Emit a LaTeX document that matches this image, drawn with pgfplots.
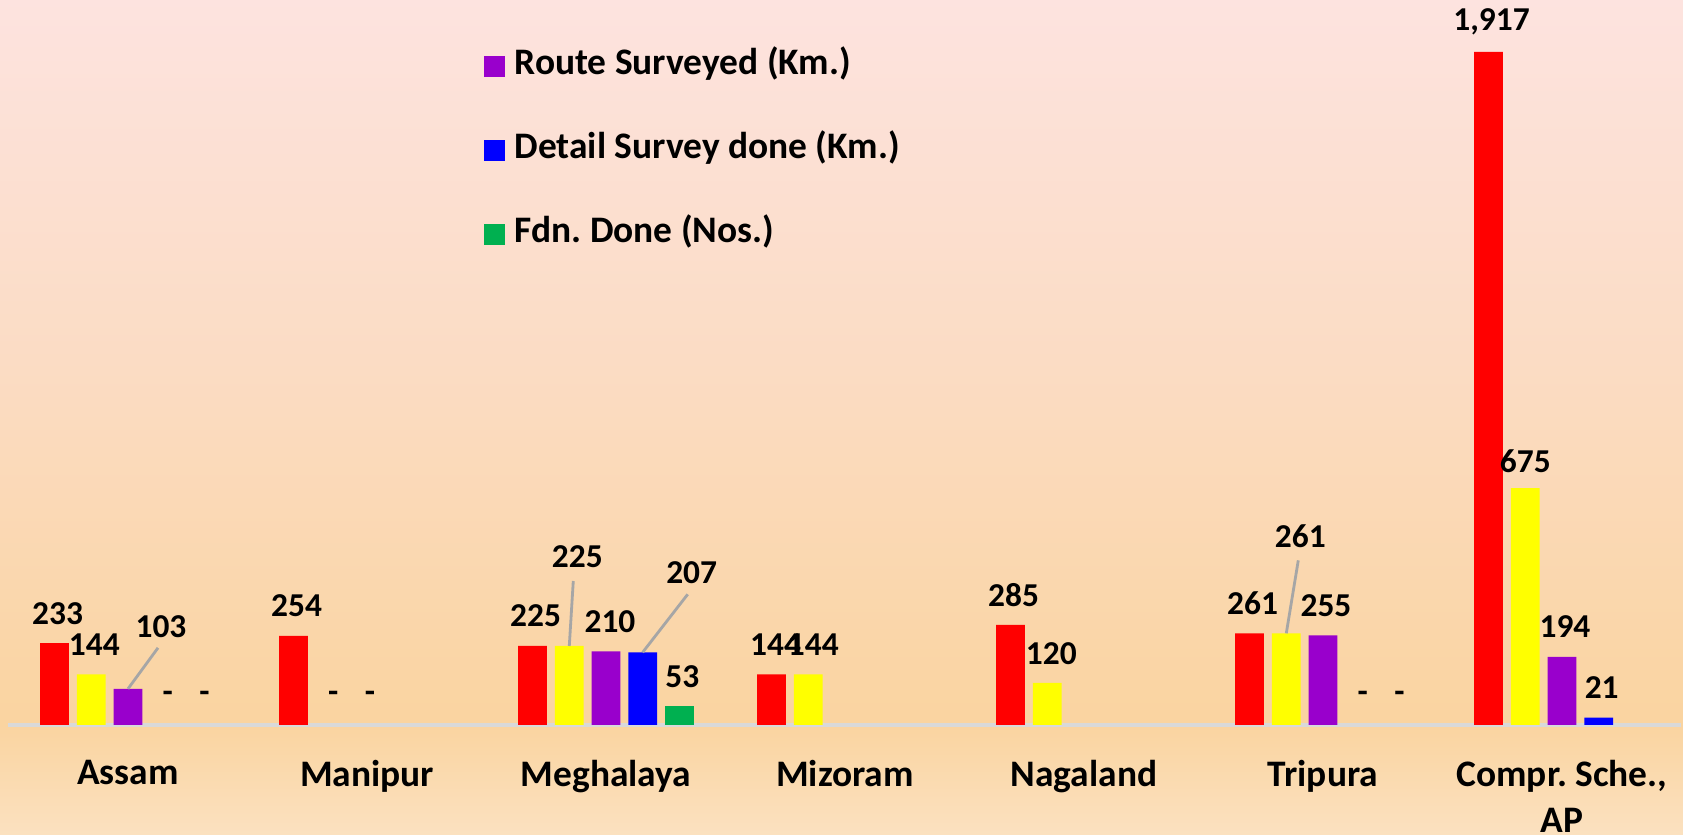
\documentclass[border=0pt]{standalone}
\usepackage{fontspec}
\setmainfont{Carlito}
\usepackage{pgfplots}
\usepackage{pgfplotstable}
\pgfplotsset{compat=1.18}

\definecolor{cRed}{RGB}{255,0,0}
\definecolor{cYel}{RGB}{255,255,0}
\definecolor{cPur}{RGB}{153,0,204}
\definecolor{cBlu}{RGB}{0,0,255}
\definecolor{cGrn}{RGB}{0,176,80}
\definecolor{bgTop}{RGB}{253,227,223}
\definecolor{bgMid}{RGB}{251,220,196}
\definecolor{bgBase}{RGB}{250,212,160}
\definecolor{bgBot}{RGB}{251,225,192}

\pgfdeclareverticalshading{bgshade}{100bp}{color(0bp)=(bgBot); color(25bp)=(bgBot); color(31.6bp)=(bgBase); color(53.4bp)=(bgMid); color(75bp)=(bgTop); color(100bp)=(bgTop)}

% x y label dx dy  (dx, dy: label offset in cm)
\pgfplotstableread{
x y lab dx dy
0 233 233 0.03 0.30
1 254 254 0.03 0.30
2 225 225 0.03 0.30
3 144 144 0.04 0.30
4 285 285 0.03 0.30
5 261 261 0.03 0.30
6 1917 1,917 0.03 0.30
}\tRed
\pgfplotstableread{
x y lab dx dy
0 144 144 0.03 0.30
2 225 225 0.08 0.89
3 144 144 0.05 0.30
4 120 120 0.04 0.29
5 261 261 0.14 0.97
6 675 675 0.00 0.27
}\tYel
\pgfplotstableread{
x y lab dx dy
0 103 103 0.33 0.62
2 210 210 0.04 0.30
5 255 255 0.03 0.30
6 194 194 0.03 0.30
}\tPur
\pgfplotstableread{
x y lab dx dy
2 207 207 0.49 0.80
6 21 21 0.03 0.30
}\tBlu
\pgfplotstableread{
x y lab dx dy
2 53 53 0.03 0.30
}\tGrn
% zero values shown as "-"
\pgfplotstableread{
x y lab dx dy
1 0 - 0.03 0.28
}\zYel
\pgfplotstableread{
x y lab dx dy
1 0 - 0.03 0.28
}\zPur
\pgfplotstableread{
x y lab dx dy
0 0 - 0.03 0.28
5 0 - 0.03 0.28
}\zBlu
\pgfplotstableread{
x y lab dx dy
0 0 - 0.03 0.28
5 0 - 0.03 0.28
}\zGrn

\begin{document}
\frenchspacing
\begin{tikzpicture}
\shade[shading=bgshade] (0,0) rectangle (16.83cm,8.35cm);
\begin{axis}[
    at={(0.085cm,1.10cm)}, anchor=south west,
    scale only axis,
    width=16.73cm, height=7.25cm,
    xmin=-0.5, xmax=6.5, ymin=0, ymax=2065,
    axis x line*=bottom, axis y line=none,
    x axis line style={draw=black!15, line width=0.9pt},
    xtick={0,...,6},
    xticklabels={Assam,Manipur,Meghalaya,Mizoram,Nagaland,Tripura,{Compr. Sche.,\\AP}},
    xtick style={draw=none}, major tick length=0pt,
    xticklabel style={font=\fontsize{10.65}{13}\selectfont\bfseries, align=center, yshift=-0.23cm},
    ytick=\empty,
    clip=false,
    ybar, bar width=0.287cm,
    point meta=explicit symbolic,
    visualization depends on={\thisrow{dx} \as \labdx},
    visualization depends on={\thisrow{dy} \as \labdy},
    nodes near coords,
    nodes near coords style={font=\fontsize{9.5}{10}\selectfont\bfseries, anchor=center, xshift=\labdx cm, yshift=\labdy cm},
    legend style={at={(0.2836,0.932)}, anchor=north west, draw=none, fill=none,
        inner sep=0pt, row sep=0.51cm, column sep=0.1cm,
        font=\fontsize{10.65}{12}\selectfont\bfseries,
        nodes={inner sep=0pt, text height=0.25cm, text depth=0.08cm}},
    legend cell align=left,
]
\addplot[fill=cRed, draw=none, bar shift=-0.734cm, forget plot] table[x=x, y=y, meta=lab] {\tRed};
\addplot[fill=cYel, draw=none, bar shift=-0.367cm, forget plot] table[x=x, y=y, meta=lab] {\tYel};
\addplot[fill=cPur, draw=none, bar shift=0cm,
    legend image code/.code={\fill[cPur] (0cm,-0.105cm) rectangle (0.21cm,0.105cm);}]
    table[x=x, y=y, meta=lab] {\tPur};
\addlegendentry{Route Surveyed (Km.)}
\addplot[fill=cBlu, draw=none, bar shift=0.367cm,
    legend image code/.code={\fill[cBlu] (0cm,-0.105cm) rectangle (0.21cm,0.105cm);}]
    table[x=x, y=y, meta=lab] {\tBlu};
\addlegendentry{Detail Survey done (Km.)}
\addplot[fill=cGrn, draw=none, bar shift=0.734cm,
    legend image code/.code={\fill[cGrn] (0cm,-0.105cm) rectangle (0.21cm,0.105cm);}]
    table[x=x, y=y, meta=lab] {\tGrn};
\addlegendentry{Fdn. Done (Nos.)}

\addplot[fill=none, draw=none, bar shift=-0.367cm, forget plot] table[x=x, y=y, meta=lab] {\zYel};
\addplot[fill=none, draw=none, bar shift=0cm, forget plot] table[x=x, y=y, meta=lab] {\zPur};
\addplot[fill=none, draw=none, bar shift=0.367cm, forget plot] table[x=x, y=y, meta=lab] {\zBlu};
\addplot[fill=none, draw=none, bar shift=0.734cm, forget plot] table[x=x, y=y, meta=lab] {\zGrn};

% leader lines for moved labels
\draw[black!35, line width=0.8pt] (axis cs:0,103) -- ([xshift=0.30cm,yshift=0.41cm]axis cs:0,103);
\draw[black!35, line width=0.8pt] ([xshift=-0.367cm]axis cs:2,225) -- ([xshift=-0.327cm,yshift=0.65cm]axis cs:2,225);
\draw[black!35, line width=0.8pt] ([xshift=0.367cm]axis cs:2,207) -- ([xshift=0.817cm,yshift=0.58cm]axis cs:2,207);
\draw[black!35, line width=0.8pt] ([xshift=-0.367cm]axis cs:5,261) -- ([xshift=-0.247cm,yshift=0.73cm]axis cs:5,261);
\end{axis}
\pgfresetboundingbox
\useasboundingbox (0,0) rectangle (16.83cm,8.35cm);
\end{tikzpicture}
\end{document}
